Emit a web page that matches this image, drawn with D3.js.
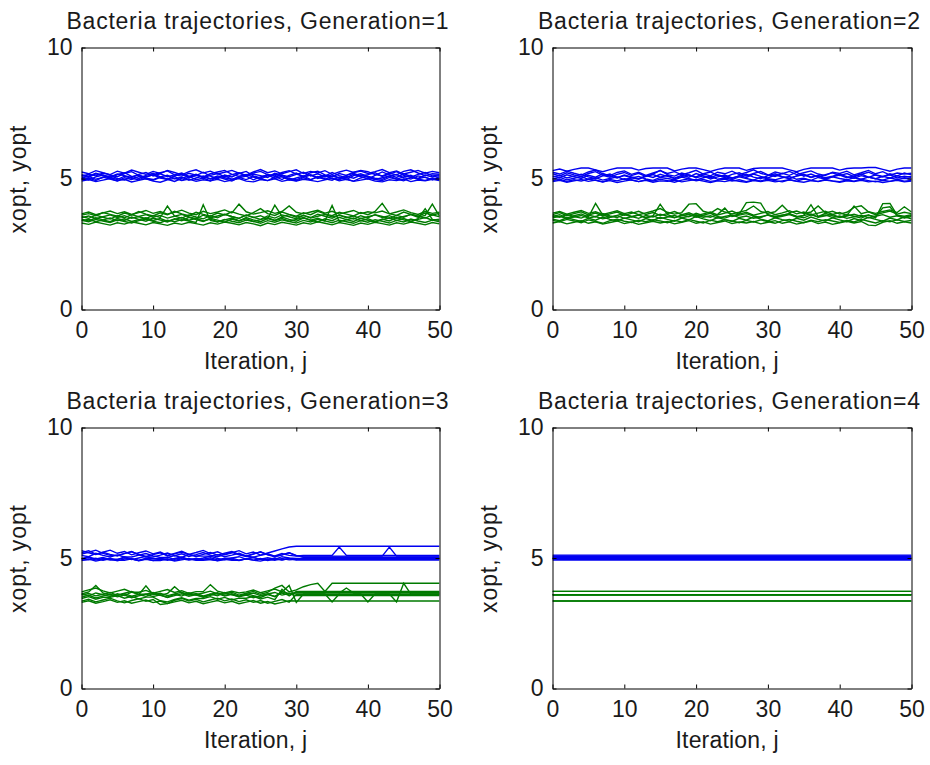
<!DOCTYPE html>
<html>
<head>
<meta charset="utf-8">
<script src="https://cdn.jsdelivr.net/npm/d3@7"></script>
<style>
  html, body { margin: 0; padding: 0; background: #ffffff; }
  svg { display: block; }
</style>
</head>
<body>
<svg id="fig" width="930" height="765"></svg>
<script>
// Bacterial foraging run: x (xopt) and y (yopt) position of every bacterium
// over the chemotactic iterations j = 0..50, one panel per generation.

const iterations = d3.range(0, 51);
const xTicks = [0, 10, 20, 30, 40, 50];
const yTicks = [0, 5, 10];
const titles = [
  "Bacteria trajectories, Generation=1",
  "Bacteria trajectories, Generation=2",
  "Bacteria trajectories, Generation=3",
  "Bacteria trajectories, Generation=4"
];
const xLabel = "Iteration, j";
const yLabel = "xopt, yopt";

// ---- Generation 1 ----
const gen1X = [
  [5.12,5.05,5.18,5.10,5.02,5.15,5.22,5.08,5.00,5.12, 5.20,5.06,4.98,5.10,5.17,5.03,5.11,5.24,5.09,4.99, 5.13,5.06,5.19,5.27,5.10,5.02,5.15,5.08,4.96,5.12, 5.21,5.05,5.14,5.00,5.09,5.23,5.11,5.03,5.16,5.07, 4.98,5.12,5.25,5.14,5.04,5.18,5.09,5.00,5.13,5.06, 5.11],
  [4.95,5.02,4.92,5.05,4.98,4.90,5.03,4.96,5.08,4.99, 4.93,5.04,4.97,4.89,5.01,5.09,4.95,5.02,4.91,5.06, 4.98,4.90,5.04,4.96,5.07,4.99,4.92,5.05,5.13,4.97, 4.91,5.03,4.95,5.08,4.99,4.93,5.06,4.97,4.90,5.02, 5.09,4.96,4.92,5.04,4.98,4.91,5.05,4.97,4.93,5.01, 4.96],
  [5.25,5.18,5.30,5.22,5.15,5.28,5.20,5.32,5.24,5.16, 5.27,5.19,5.31,5.23,5.14,5.26,5.33,5.21,5.28,5.17, 5.24,5.31,5.20,5.13,5.25,5.34,5.22,5.29,5.18,5.26, 5.33,5.19,5.27,5.21,5.30,5.16,5.25,5.32,5.23,5.28, 5.19,5.26,5.34,5.22,5.29,5.17,5.24,5.31,5.20,5.27, 5.22],
  [5.02,5.08,4.97,5.04,5.11,5.00,4.94,5.07,5.13,5.01, 4.96,5.06,5.12,4.99,5.05,4.93,5.02,5.10,4.98,5.04, 5.11,4.97,5.03,5.09,4.95,5.06,5.14,5.00,5.07,4.94, 5.02,5.10,4.96,5.05,5.12,4.99,4.95,5.08,5.01,5.13, 5.04,4.96,5.03,5.10,4.97,5.06,5.12,4.99,5.05,4.95, 5.03],
  [5.15,5.09,5.20,5.13,5.06,5.17,5.11,5.04,5.16,5.23, 5.10,5.18,5.07,5.14,5.21,5.08,5.16,5.02,5.12,5.19, 5.07,5.15,5.22,5.09,5.17,5.11,5.04,5.20,5.13,5.07, 5.16,5.24,5.10,5.18,5.06,5.14,5.01,5.12,5.20,5.09, 5.15,5.22,5.08,5.17,5.26,5.12,5.05,5.16,5.23,5.10, 5.14],
  [4.90,4.96,4.88,4.94,5.00,4.91,4.97,4.87,4.93,4.99, 4.90,4.86,4.95,5.01,4.92,4.98,4.89,4.95,4.91,4.97, 4.88,4.94,5.00,4.90,4.87,4.96,4.92,4.99,4.89,4.95, 4.90,4.97,4.93,4.88,4.95,5.01,4.91,4.97,4.89,4.94, 4.99,4.90,4.87,4.95,4.92,4.98,4.88,4.94,4.91,4.97, 4.92],
  [5.08,5.16,5.10,5.21,5.14,5.07,5.19,5.26,5.12,5.05, 5.15,5.22,5.29,5.14,5.09,5.20,5.13,5.06,5.18,5.25, 5.31,5.16,5.08,5.12,5.21,5.27,5.15,5.10,5.23,5.30, 5.17,5.09,5.22,5.28,5.14,5.06,5.19,5.12,5.24,5.31, 5.26,5.15,5.10,5.20,5.14,5.27,5.33,5.21,5.11,5.18, 5.16],
  [5.00,4.94,5.06,5.13,5.03,4.96,5.09,5.01,4.95,5.07, 5.14,5.02,4.97,5.08,4.93,5.04,5.12,5.06,4.99,5.10, 5.03,4.96,5.08,5.15,5.05,4.98,5.10,5.17,5.06,5.01, 4.95,5.07,5.13,5.04,4.97,5.09,5.02,4.96,5.11,5.18, 5.08,5.01,4.97,5.09,5.15,5.03,4.98,5.10,5.04,4.96, 5.07]
];
const gen1Y = [
  [3.55,3.48,3.60,3.52,3.45,3.58,3.50,3.62,3.54,3.47, 3.59,3.51,3.95,3.56,3.49,3.61,3.53,3.46,3.58,3.50, 3.63,3.55,3.48,3.60,3.52,3.44,3.57,3.49,3.61,3.54, 3.46,3.59,3.51,3.64,3.56,3.48,3.60,3.53,3.45,3.58, 3.50,3.62,3.55,3.47,3.59,3.52,3.64,3.56,3.49,3.61, 3.54],
  [3.40,3.35,3.44,3.38,3.32,3.42,3.36,3.30,3.39,3.45, 3.37,3.31,3.41,3.35,3.43,3.38,3.32,4.00,3.40,3.34, 3.44,3.37,3.31,3.41,3.36,3.29,3.39,3.33,3.42,3.36, 3.30,3.40,3.34,3.44,3.38,3.31,3.41,3.35,3.29,3.39, 3.33,3.43,3.37,3.30,3.40,3.34,3.45,3.38,3.32,3.41, 3.35],
  [3.65,3.72,3.62,3.69,3.76,3.66,3.73,3.63,3.70,3.78, 3.67,3.74,3.64,3.71,3.79,3.68,3.62,3.75,3.66,3.72, 3.80,3.69,4.02,3.73,3.64,3.70,3.77,3.67,3.74,3.95, 3.71,3.65,3.72,3.79,3.68,3.75,3.64,3.71,3.78,3.66, 3.73,3.69,3.76,3.65,3.72,3.80,3.70,3.63,3.74,3.67, 3.71],
  [3.30,3.25,3.34,3.28,3.22,3.31,3.26,3.35,3.29,3.23, 3.32,3.27,3.21,3.30,3.25,3.33,3.28,3.22,3.31,3.26, 3.34,3.29,3.23,3.32,3.27,3.20,3.30,3.24,3.33,3.28, 3.22,3.31,3.26,3.35,3.29,3.23,3.32,3.27,3.21,3.30, 3.25,3.33,3.28,3.22,3.31,3.26,3.34,3.29,3.23,3.32, 3.27],
  [3.50,3.57,3.47,3.54,3.61,3.51,3.58,3.48,3.55,3.62, 3.52,3.59,3.49,3.56,3.63,3.53,3.47,3.60,3.50,3.57, 3.64,3.54,3.48,3.61,3.51,3.58,3.46,3.98,3.55,3.62, 3.52,3.59,3.49,3.56,3.63,3.53,3.60,3.50,3.57,3.47, 3.54,3.61,3.51,3.58,3.48,3.55,3.62,3.52,3.59,4.02, 3.56],
  [3.38,3.45,3.35,3.42,3.49,3.39,3.46,3.36,3.43,3.50, 3.40,3.47,3.37,3.44,3.51,3.41,3.48,3.38,3.45,3.35, 3.42,3.49,3.39,3.46,3.36,3.43,3.50,3.40,3.47,3.37, 3.44,3.51,3.41,3.48,3.38,3.97,3.35,3.42,3.49,3.39, 3.46,3.36,3.43,3.50,3.40,3.47,3.37,3.44,3.51,3.41, 3.45],
  [3.60,3.66,3.58,3.70,3.63,3.56,3.68,3.61,3.74,3.64, 3.57,3.69,3.62,3.75,3.65,3.58,3.71,3.63,3.56,3.68, 3.61,3.73,3.64,3.57,3.70,3.85,3.66,3.59,3.72,3.63, 3.56,3.69,3.62,3.75,3.65,3.58,3.71,3.64,3.57,3.70, 3.62,3.74,4.05,3.66,3.59,3.72,3.63,3.56,3.68,3.61, 3.67],
  [3.45,3.38,3.50,3.42,3.35,3.47,3.40,3.53,3.44,3.37, 3.49,3.41,3.34,3.46,3.39,3.52,3.43,3.36,3.48,3.41, 3.33,3.45,3.38,3.51,3.42,3.35,3.47,3.40,3.53,3.44, 3.37,3.49,3.41,3.34,3.46,3.39,3.52,3.43,3.36,3.48, 3.40,3.33,3.45,3.38,3.51,3.42,3.35,3.47,3.85,3.44, 3.40]
];

// ---- Generation 2 ----
const gen2X = [
  [5.05,5.12,5.02,5.09,5.16,5.06,4.99,5.10,5.17,5.04, 5.11,5.03,4.97,5.08,5.15,5.05,5.12,5.00,5.07,5.14, 5.03,5.10,4.98,5.06,5.13,5.02,5.09,5.16,5.05,4.99, 5.11,5.18,5.07,5.01,5.09,5.15,5.04,5.11,4.98,5.06, 5.13,5.03,5.10,5.17,5.05,4.99,5.08,5.14,5.02,5.09, 5.04],
  [4.92,4.97,4.89,4.95,4.90,4.98,4.93,4.87,4.96,4.91, 4.99,4.94,4.88,4.95,4.90,4.97,4.92,4.86,4.94,4.99, 4.91,4.96,4.89,4.93,4.98,4.90,4.95,4.88,4.94,4.91, 4.97,4.92,4.87,4.95,4.90,4.98,4.93,4.89,4.96,4.91, 4.88,4.94,4.90,4.97,4.92,4.87,4.93,4.89,4.95,4.90, 4.93],
  [5.30,5.36,5.28,5.35,5.40,5.40,5.33,5.26,5.34,5.40, 5.40,5.40,5.32,5.38,5.40,5.40,5.40,5.29,5.36,5.40, 5.40,5.34,5.27,5.35,5.40,5.40,5.40,5.31,5.38,5.40, 5.40,5.40,5.40,5.33,5.26,5.35,5.40,5.40,5.40,5.40, 5.32,5.38,5.40,5.40,5.42,5.42,5.35,5.28,5.36,5.40, 5.40],
  [5.18,5.10,5.22,5.14,5.07,5.19,5.26,5.12,5.05,5.16, 5.23,5.11,5.20,5.08,5.17,5.31,5.15,5.09,5.21,5.13, 5.06,5.18,5.25,5.12,5.04,5.16,5.22,5.10,5.19,5.27, 5.14,5.08,5.20,5.12,5.24,5.09,5.17,5.06,5.15,5.22, 5.11,5.19,5.07,5.16,5.24,5.13,5.06,5.18,5.10,5.21, 5.14],
  [4.98,5.04,4.95,5.01,5.07,4.97,5.03,4.94,5.00,5.06, 4.96,5.02,5.08,4.98,4.93,5.04,5.00,4.95,5.05,4.99, 4.94,5.03,5.09,4.97,5.02,4.96,5.06,5.00,4.94,5.05, 4.99,4.95,5.03,5.08,4.97,5.01,4.93,5.04,4.98,5.06, 5.00,4.95,5.03,4.97,5.05,4.99,4.94,5.02,4.96,5.01, 4.97],
  [5.24,5.17,5.28,5.20,5.13,5.25,5.32,5.18,5.11,5.23, 5.29,5.16,5.24,5.12,5.21,5.30,5.19,5.26,5.14,5.22, 5.31,5.17,5.10,5.24,5.18,5.28,5.15,5.23,5.33,5.20, 5.12,5.25,5.18,5.27,5.15,5.22,5.29,5.17,5.11,5.24, 5.19,5.28,5.14,5.22,5.31,5.18,5.26,5.13,5.21,5.17, 5.20],
  [4.88,4.93,4.86,4.91,4.96,4.89,4.94,4.87,4.92,4.85, 4.90,4.95,4.88,4.93,4.86,4.91,4.89,4.94,4.87,4.92, 4.96,4.90,4.85,4.91,4.88,4.94,4.89,4.86,4.92,4.88, 4.93,4.87,4.91,4.95,4.89,4.86,4.92,4.88,4.94,4.90, 4.86,4.91,4.88,4.93,4.87,4.90,4.85,4.89,4.93,4.87, 4.90],
  [5.10,5.03,5.14,5.07,5.00,5.12,5.05,5.18,5.09,5.02, 5.13,5.06,4.99,5.11,5.04,5.16,5.08,5.01,5.12,5.05, 5.19,5.10,5.03,5.14,5.07,5.00,5.11,5.04,5.17,5.08, 5.02,5.13,5.06,4.99,5.10,5.15,5.05,5.12,5.03,5.09, 5.16,5.07,5.01,5.11,5.04,5.14,5.08,5.02,5.10,5.05, 5.08]
];
const gen2Y = [
  [3.55,3.62,3.50,3.58,3.65,3.53,4.05,3.60,3.52,3.59, 3.66,3.54,3.61,3.49,3.57,4.02,3.63,3.51,3.58,3.64, 3.52,3.60,3.67,3.55,3.49,3.58,3.64,4.08,4.10,4.06, 3.61,3.54,3.60,3.66,3.53,3.59,3.65,3.52,3.58,3.63, 3.51,3.57,3.64,3.55,3.61,3.50,4.04,4.05,3.60,3.56, 3.62],
  [3.40,3.35,3.44,3.38,3.31,3.42,3.36,3.29,3.39,3.45, 3.37,3.32,3.41,3.35,3.43,3.38,3.31,3.40,3.34,3.44, 3.37,3.30,3.41,3.35,3.43,3.38,3.31,3.40,3.34,3.42, 3.36,3.29,3.39,3.44,3.37,3.31,3.41,3.35,3.43,3.38, 3.32,3.40,3.34,3.44,3.37,3.30,3.39,3.35,3.42,3.36, 3.40],
  [3.68,3.74,3.64,3.71,3.78,3.67,3.73,3.63,3.70,3.77, 3.66,3.72,3.62,3.69,3.76,3.85,3.71,3.64,3.70,4.02, 4.04,3.75,3.68,3.85,3.72,3.65,3.71,3.78,3.95,3.74, 3.67,3.73,3.98,3.70,3.76,3.66,3.72,3.95,3.69,3.75, 3.64,3.71,3.90,3.96,3.73,3.67,3.74,3.80,3.70,3.92, 3.72],
  [3.30,3.36,3.27,3.33,3.39,3.29,3.35,3.26,3.32,3.38, 3.28,3.34,3.25,3.31,3.37,3.30,3.36,3.27,3.33,3.39, 3.29,3.35,3.26,3.32,3.38,3.28,3.34,3.30,3.36,3.27, 3.33,3.39,3.29,3.35,3.26,3.32,3.38,3.28,3.34,3.25, 3.31,3.37,3.30,3.36,3.22,3.20,3.33,3.39,3.29,3.35, 3.30],
  [3.50,3.56,3.47,3.53,3.59,3.49,3.55,3.46,3.52,3.58, 3.48,3.54,3.60,3.51,3.57,3.47,3.53,3.59,3.50,3.56, 3.62,3.52,3.58,3.49,3.55,3.61,3.51,3.57,3.48,3.54, 3.60,3.50,3.56,3.62,3.53,3.59,4.00,3.55,3.61,3.51, 3.57,3.48,3.54,3.60,3.50,3.56,3.62,3.52,3.58,3.49, 3.55],
  [3.62,3.70,3.58,3.66,3.73,3.61,3.68,3.57,3.65,3.72, 3.60,3.67,3.75,3.63,3.70,3.59,3.66,3.74,3.62,3.69, 3.58,3.65,3.72,3.61,3.68,3.76,3.64,3.71,3.60,3.67, 3.74,3.62,3.69,3.77,3.65,3.72,3.61,3.68,3.75,3.63, 3.70,3.59,3.95,3.66,3.73,3.62,3.69,3.76,3.64,3.71, 3.66],
  [3.45,3.39,3.50,3.43,3.36,3.48,3.41,3.53,3.44,3.38, 3.49,3.42,3.35,3.47,3.40,3.52,3.44,3.37,3.49,3.42, 3.55,3.46,3.39,3.51,3.43,3.36,3.48,3.41,3.54,3.45, 3.38,3.50,3.43,3.37,3.48,3.41,3.53,3.44,3.38,3.50, 3.42,3.35,3.47,3.40,3.52,3.44,3.37,3.49,3.42,3.54, 3.46],
  [3.58,3.52,3.63,3.55,3.49,3.60,3.54,3.66,3.57,3.51, 3.62,3.55,3.48,3.59,3.53,3.64,3.56,3.50,3.61,3.54, 3.67,3.58,3.52,3.63,3.87,3.55,3.60,3.66,3.57,3.51, 3.62,3.55,3.60,3.65,3.56,3.50,3.61,3.54,3.67,3.58, 3.52,3.63,3.56,3.49,3.60,3.54,3.88,3.92,3.57,3.51, 3.59]
];

// ---- Generation 3 ----
const gen3X = [
  [5.20,5.28,5.15,5.22,5.30,5.18,5.25,5.12,5.20,5.27, 5.16,5.23,5.10,5.18,5.26,5.14,5.21,5.29,5.17,5.24, 5.12,5.20,5.28,5.16,5.23,5.11,5.19,5.27,5.35,5.42, 5.45,5.45,5.45,5.45,5.45,5.45,5.45,5.45,5.45,5.45, 5.45,5.45,5.45,5.45,5.45,5.45,5.45,5.45,5.45,5.45, 5.45],
  [4.95,5.02,4.92,4.98,4.92,4.92,5.05,4.96,4.90,4.97, 4.97,4.97,4.91,4.98,5.04,4.95,4.95,4.95,5.01,4.93, 4.99,4.99,4.92,4.97,5.03,4.94,4.94,5.00,4.93,4.98, 4.92,4.92,4.92,4.92,4.92,4.92,4.92,4.92,4.92,4.92, 4.92,4.92,4.92,4.92,4.92,4.92,4.92,4.92,4.92,4.92, 4.92],
  [5.10,5.05,5.18,5.10,5.04,5.12,5.04,5.04,5.11,5.17, 5.08,5.02,5.02,5.09,5.02,5.14,5.07,5.07,5.07,5.13, 5.05,5.11,5.18,5.08,5.03,5.10,5.16,5.06,5.12,5.20, 5.08,5.10,5.10,5.10,5.10,5.10,5.42,5.10,5.10,5.10, 5.10,5.10,5.10,5.10,5.10,5.10,5.10,5.10,5.10,5.10, 5.10],
  [4.90,4.96,4.88,4.94,4.99,4.91,4.91,4.97,4.89,4.95, 4.90,4.90,4.96,4.88,4.93,4.98,4.91,4.91,4.96,4.89, 4.94,4.94,4.90,4.97,4.92,4.88,4.95,4.91,4.98,4.93, 4.95,4.95,4.95,4.95,4.95,4.95,4.95,4.95,4.95,4.95, 4.95,4.95,4.95,4.95,4.95,4.95,4.95,4.95,4.95,4.95, 4.95],
  [5.28,5.20,5.13,5.22,5.14,5.08,5.18,5.25,5.12,5.04, 5.04,5.11,5.19,5.09,5.16,5.06,5.13,5.21,5.11,5.05, 5.14,5.22,5.12,5.06,5.15,5.24,5.13,5.08,5.17,5.10, 5.07,5.07,5.07,5.07,5.07,5.07,5.07,5.07,5.07,5.07, 5.07,5.07,5.07,5.42,5.07,5.07,5.07,5.07,5.07,5.07, 5.07],
  [4.98,5.04,4.96,5.02,4.95,4.95,5.01,4.94,5.00,5.06, 4.97,4.97,5.03,4.95,5.01,4.94,4.94,5.00,5.07,4.98, 4.93,5.00,5.05,4.96,5.02,4.95,5.01,4.95,5.05,5.00, 4.98,4.98,4.98,4.98,4.98,4.98,4.98,4.98,4.98,4.98, 4.98,4.98,4.98,4.98,4.98,4.98,4.98,4.98,4.98,4.98, 4.98],
  [5.15,5.22,5.30,5.18,5.10,5.10,5.17,5.24,5.14,5.06, 5.13,5.20,5.09,5.16,5.23,5.13,5.06,5.14,5.21,5.11, 5.18,5.25,5.14,5.08,5.16,5.23,5.12,5.05,5.12,5.20, 5.10,5.04,5.04,5.04,5.04,5.04,5.04,5.04,5.04,5.04, 5.04,5.04,5.04,5.04,5.04,5.04,5.04,5.04,5.04,5.04, 5.04],
  [4.93,4.93,4.99,4.91,4.97,4.89,4.96,4.96,4.92,4.98, 4.90,4.95,4.95,4.91,4.97,4.92,4.99,4.93,4.93,4.90, 4.96,4.91,4.91,4.97,4.92,4.98,4.90,4.96,4.92,4.98, 4.94,5.01,5.01,5.01,5.01,5.01,5.01,5.01,5.01,5.01, 5.01,5.01,5.01,5.01,5.01,5.01,5.01,5.01,5.01,5.01, 5.01]
];
const gen3Y = [
  [3.62,3.70,3.95,3.66,3.58,3.58,3.65,3.72,3.61,3.61, 3.68,3.57,3.64,3.90,3.66,3.59,3.59,3.66,3.73,3.62, 3.62,3.69,3.58,3.65,3.72,3.61,3.68,3.85,3.95,3.70, 3.78,3.90,3.98,4.03,3.72,4.03,4.03,4.03,4.03,4.03, 4.03,4.03,4.03,4.03,4.03,4.03,4.03,4.03,4.03,4.03, 4.03],
  [3.45,3.52,3.42,3.49,3.49,3.56,3.46,3.53,3.43,3.50, 3.50,3.36,3.32,3.41,3.48,3.38,3.45,3.45,3.52,3.42, 3.49,3.39,3.46,3.46,3.53,3.43,3.50,3.40,3.80,3.55, 3.72,3.72,3.72,3.72,3.72,3.72,3.72,3.72,3.72,3.72, 3.72,3.72,3.72,3.72,3.72,3.72,3.72,3.72,3.72,3.72, 3.72],
  [3.70,3.78,3.85,3.74,3.66,3.73,3.80,3.69,3.69,3.76, 3.65,3.72,3.79,3.68,3.75,3.64,3.71,3.71,3.98,3.73, 3.66,3.73,3.66,3.70,3.77,3.67,3.74,3.81,3.70,3.64, 3.66,3.66,3.66,3.66,3.66,3.66,3.66,3.85,3.66,3.66, 3.66,3.66,3.66,3.66,3.66,3.66,3.66,3.66,3.66,3.66, 3.66],
  [3.35,3.42,3.32,3.39,3.46,3.36,3.28,3.37,3.44,3.34, 3.41,3.22,3.25,3.38,3.45,3.35,3.42,3.32,3.39,3.46, 3.36,3.43,3.33,3.40,3.30,3.37,3.27,3.34,3.41,3.31, 3.60,3.60,3.60,3.60,3.60,3.60,3.60,3.60,3.60,3.60, 3.60,3.60,3.60,3.60,3.60,3.60,3.60,3.60,3.60,3.60, 3.60],
  [3.58,3.64,3.55,3.61,3.68,3.57,3.63,3.54,3.60,3.93, 3.59,3.65,3.56,3.62,3.69,3.58,3.64,3.55,3.61,3.67, 3.57,3.63,3.54,3.60,3.66,3.56,3.62,3.68,3.58,3.64, 3.56,3.56,3.56,3.56,3.56,3.56,3.56,3.56,3.56,3.56, 3.56,3.56,3.56,3.56,3.56,3.56,3.56,3.56,3.56,3.56, 3.56],
  [3.50,3.57,3.47,3.54,3.61,3.51,3.58,3.48,3.55,3.62, 3.52,3.59,3.49,3.56,3.63,3.53,3.60,3.50,3.57,3.64, 3.54,3.61,3.51,3.58,3.48,3.55,3.62,3.52,3.70,3.95, 3.30,3.62,3.62,3.62,3.62,3.32,3.62,3.62,3.62,3.62, 3.32,3.62,3.62,3.62,3.32,4.03,3.62,3.62,3.62,3.62, 3.62],
  [3.30,3.36,3.27,3.33,3.40,3.30,3.36,3.27,3.33,3.39, 3.29,3.35,3.26,3.32,3.38,3.28,3.34,3.25,3.31,3.37, 3.28,3.34,3.25,3.31,3.37,3.27,3.33,3.24,3.30,3.36, 3.35,3.35,3.35,3.35,3.35,3.35,3.35,3.35,3.35,3.35, 3.35,3.35,3.35,3.35,3.35,3.35,3.35,3.35,3.35,3.35, 3.35],
  [3.62,3.55,3.66,3.59,3.52,3.63,3.56,3.69,3.60,3.53, 3.64,3.57,3.50,3.61,3.54,3.67,3.58,3.51,3.62,3.55, 3.68,3.59,3.52,3.63,3.56,3.49,3.60,3.53,3.66,3.57, 3.68,3.68,3.68,3.68,3.68,3.68,3.68,3.68,3.68,3.68, 3.68,3.68,3.68,3.68,3.68,3.68,3.68,3.68,3.68,3.68, 3.68]
];

// ---- Generation 4: every bacterium stays where it is for the whole run ----
const gen4X = [4.92, 4.95, 4.98, 5.00, 5.02, 5.05, 5.08, 5.11];
const gen4Y = [3.72, 3.72, 3.59, 3.59, 3.59, 3.59, 3.35, 3.35];

const generations = [
  { xs: gen1X, ys: gen1Y },
  { xs: gen2X, ys: gen2Y },
  { xs: gen3X, ys: gen3Y },
  { xs: gen4X.map(v => iterations.map(() => v)), ys: gen4Y.map(v => iterations.map(() => v)) }
];

// ---- layout ----
const frames = [
  { left: 81,  top: 47,  width: 358, height: 262 },
  { left: 552, top: 47,  width: 359, height: 262 },
  { left: 81,  top: 427, width: 358, height: 261 },
  { left: 552, top: 427, width: 359, height: 261 }
];

const COLOR_X = "#0000f0";
const COLOR_Y = "#007a00";
const FONT = "'Liberation Sans', Arial, Helvetica, sans-serif";
const TEXT = "#1a1a1a";
const TICK = 4;

const svg = d3.select("#fig");
svg.append("rect").attr("width", 930).attr("height", 765).attr("fill", "#ffffff");

frames.forEach((f, k) => {
  const gen = generations[k];
  const x = d3.scaleLinear().domain([0, 50]).range([0, f.width]);
  const y = d3.scaleLinear().domain([0, 10]).range([f.height, 0]);

  const g = svg.append("g").attr("transform", `translate(${f.left + 0.5},${f.top + 0.5})`);

  const clipId = "clip" + k;
  g.append("clipPath").attr("id", clipId)
    .append("rect").attr("x", 0).attr("y", 0).attr("width", f.width).attr("height", f.height);

  const line = d3.line()
    .x((d, i) => x(iterations[i]))
    .y(d => y(d));

  const plot = g.append("g").attr("clip-path", `url(#${clipId})`);
  plot.selectAll("path.xopt").data(gen.xs).join("path")
    .attr("class", "xopt")
    .attr("d", line)
    .attr("fill", "none")
    .attr("stroke", COLOR_X)
    .attr("stroke-width", 1.4)
    .attr("stroke-linejoin", "miter");
  plot.selectAll("path.yopt").data(gen.ys).join("path")
    .attr("class", "yopt")
    .attr("d", line)
    .attr("fill", "none")
    .attr("stroke", COLOR_Y)
    .attr("stroke-width", 1.4)
    .attr("stroke-linejoin", "miter");

  // boxed axes with inward ticks
  const styleAxis = sel => {
    sel.select(".domain").attr("stroke", "#000").attr("stroke-width", 1);
    sel.selectAll(".tick line").attr("stroke", "#000").attr("stroke-width", 1);
    sel.attr("font-family", FONT).attr("font-size", 23);
    sel.selectAll(".tick text").attr("fill", TEXT);
  };

  g.append("g").attr("transform", `translate(0,${f.height})`)
    .call(d3.axisBottom(x).tickValues(xTicks).tickFormat(d3.format("d"))
      .tickSizeInner(-TICK).tickSizeOuter(0).tickPadding(12.5))
    .call(styleAxis);
  g.append("g")
    .call(d3.axisTop(x).tickValues(xTicks).tickFormat("")
      .tickSizeInner(-TICK).tickSizeOuter(0))
    .call(styleAxis);
  g.append("g")
    .call(d3.axisLeft(y).tickValues(yTicks).tickFormat(d3.format("d"))
      .tickSizeInner(-TICK).tickSizeOuter(0).tickPadding(9))
    .call(styleAxis);
  g.append("g").attr("transform", `translate(${f.width},0)`)
    .call(d3.axisRight(y).tickValues(yTicks).tickFormat("")
      .tickSizeInner(-TICK).tickSizeOuter(0))
    .call(styleAxis);

  // title
  g.append("text")
    .attr("x", f.width / 2 - 3)
    .attr("y", -19)
    .attr("text-anchor", "middle")
    .attr("font-family", FONT)
    .attr("font-size", 23)
    .attr("fill", TEXT)
    .attr("textLength", 382)
    .attr("lengthAdjust", "spacing")
    .text(titles[k]);

  // x label
  g.append("text")
    .attr("x", f.width / 2 - 5)
    .attr("y", f.height + 59)
    .attr("text-anchor", "middle")
    .attr("font-family", FONT)
    .attr("font-size", 23)
    .attr("fill", TEXT)
    .attr("textLength", 103)
    .attr("lengthAdjust", "spacing")
    .text(xLabel);

  // y label
  g.append("text")
    .attr("transform", `translate(-56,${f.height / 2 + 1}) rotate(-90)`)
    .attr("text-anchor", "middle")
    .attr("font-family", FONT)
    .attr("font-size", 23)
    .attr("fill", TEXT)
    .attr("textLength", 108)
    .attr("lengthAdjust", "spacing")
    .text(yLabel);
});
</script>
</body>
</html>
